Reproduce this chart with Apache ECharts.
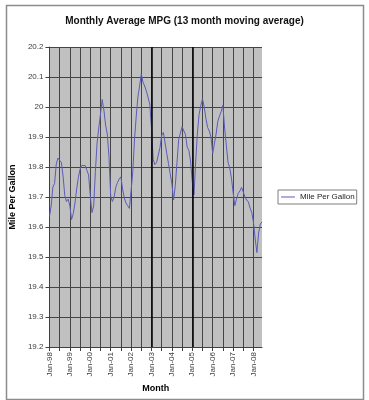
<!DOCTYPE html>
<html>
<head>
<meta charset="utf-8">
<script src="https://cdn.jsdelivr.net/npm/echarts@6/dist/echarts.min.js"></script>
<style>
html,body{margin:0;padding:0;background:#fff;}
#c{width:369px;height:400px;}
</style>
</head>
<body>
<div id="c"></div>
<script>
// Data: 13-month moving average MPG, monthly from Jan-98
var startYear = 1998;
var monthNames = ["Jan","Feb","Mar","Apr","May","Jun","Jul","Aug","Sep","Oct","Nov","Dec"];
var mpgValues = [
19.635,19.67,19.733,19.745,19.81,19.83,19.822,19.815,19.77,19.705,19.685,19.693,
19.67,19.625,19.645,19.68,19.727,19.765,19.793,19.805,19.809,19.805,19.789,19.774,
19.705,19.648,19.67,19.785,19.88,19.93,19.976,20.025,19.99,19.94,19.91,19.835,
19.703,19.685,19.7,19.732,19.748,19.76,19.767,19.727,19.697,19.68,19.671,19.662,
19.72,19.785,19.89,19.967,20.033,20.07,20.11,20.083,20.07,20.053,20.055,20.01,
19.93,19.825,19.808,19.815,19.84,19.865,19.905,19.915,19.88,19.845,19.811,19.778,
19.744,19.69,19.738,19.815,19.892,19.913,19.934,19.935,19.908,19.866,19.855,19.82,
19.75,19.707,19.82,19.913,19.975,20.005,20.027,20.0,19.962,19.932,19.92,19.9,
19.845,19.845,19.91,19.952,19.97,19.985,20.006,19.93,19.874,19.816,19.797,19.764,
19.716,19.671,19.693,19.712,19.72,19.732,19.735,19.70,19.69,19.683,19.663,19.648,
19.615,19.56,19.515,19.58,19.61,19.617
];
var markedMonths = ["Jan-03","Jan-05"];
var seriesName = "Mile Per Gallon";

var categories = [];
for (var i = 0; i < mpgValues.length; i++) {
  var y = startYear + Math.floor(i / 12);
  categories.push(monthNames[i % 12] + "-" + String(y % 100).padStart(2, "0"));
}

var chart = echarts.init(document.getElementById('c'));
var font = 'Liberation Sans, Arial, sans-serif';
chart.setOption({
  animation: false,
  backgroundColor: '#ffffff',
  textStyle: {fontFamily: font},
  title: {
    text: 'Monthly Average MPG (13 month moving average)',
    left: 'center', top: 11,
    textStyle: {fontSize: 10, fontWeight: 'bold', color: '#111', fontFamily: font}
  },
  graphic: [{
    type: 'rect', left: 4, top: 3, z: -1,
    shape: {width: 357, height: 394},
    style: {fill: 'none', stroke: '#8c8c8c', lineWidth: 1.5}
  }],
  legend: {
    left: 278, top: 190,
    data: [{name: seriesName, icon: 'rect'}],
    orient: 'vertical',
    borderColor: '#7f7f7f', borderWidth: 1,
    padding: [3, 2, 3, 3],
    itemWidth: 14, itemHeight: 1,
    textStyle: {fontSize: 8, color: '#222', fontFamily: font, lineHeight: 8}
  },
  grid: {left: 49, top: 47, right: 107, bottom: 53, show: true, backgroundColor: '#c0c0c0', borderWidth: 0},
  xAxis: {
    type: 'category',
    data: categories,
    boundaryGap: false,
    name: 'Month', nameLocation: 'middle', nameGap: 32,
    nameTextStyle: {fontSize: 9, fontWeight: 'bold', color: '#000'},
    axisLine: {lineStyle: {color: '#404040', width: 1}},
    axisTick: {show: true, length: 4, interval: function (idx) { return idx % 6 === 0; }, lineStyle: {color: '#404040'}},
    axisLabel: {
      rotate: 90, fontSize: 8, color: '#404040', margin: 5,
      interval: function (idx) { return idx % 12 === 0; }
    },
    splitLine: {show: true, interval: function (idx) { return idx % 6 === 0; }, lineStyle: {color: '#444', width: 1}}
  },
  yAxis: {
    type: 'value', min: 19.2, max: 20.2, interval: 0.1,
    name: 'Mile Per Gallon', nameLocation: 'middle', nameGap: 25, nameRotate: 90,
    nameTextStyle: {fontSize: 9, fontWeight: 'bold', color: '#000'},
    axisLine: {show: true, lineStyle: {color: '#404040', width: 1}},
    axisTick: {show: true, length: 4, lineStyle: {color: '#404040'}},
    axisLabel: {fontSize: 8, color: '#404040', margin: 6,
      formatter: function (v) { return String(Math.round(v * 10) / 10); }},
    splitLine: {show: true, lineStyle: {color: '#444', width: 1}}
  },
  series: [{
    name: seriesName,
    type: 'line',
    data: mpgValues,
    symbol: 'none',
    lineStyle: {color: '#5c5cb8', width: 1},
    itemStyle: {color: '#5c5cb8'},
    markLine: {
      silent: true, symbol: 'none', label: {show: false},
      lineStyle: {color: '#000', width: 1.5, type: 'solid'},
      data: markedMonths.map(function (m) { return {xAxis: m}; })
    }
  }]
});
</script>
</body>
</html>
